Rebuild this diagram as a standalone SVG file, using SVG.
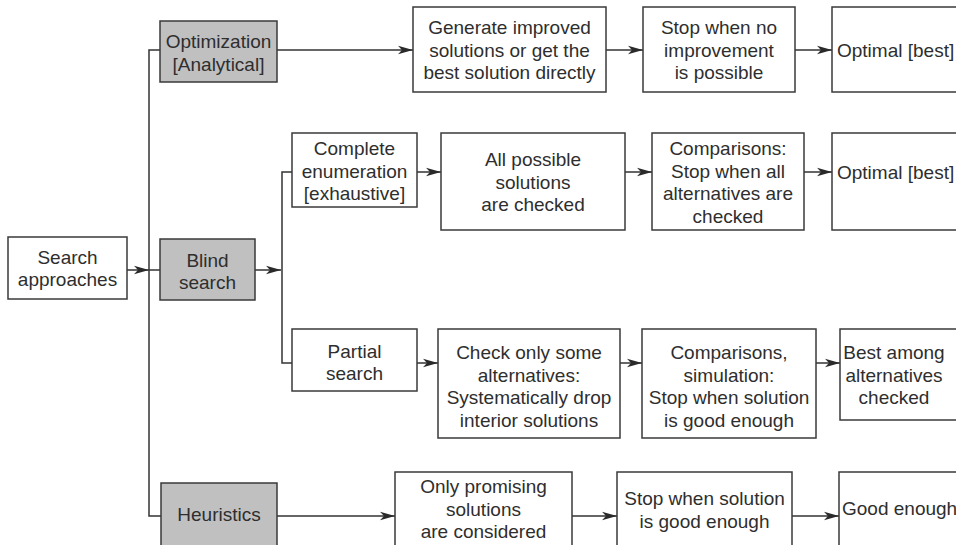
<svg xmlns="http://www.w3.org/2000/svg" width="956" height="545" viewBox="0 0 956 545">
<style>
.b{fill:#fff;stroke:#3a3a3a;stroke-width:1.5}
.g{fill:#c0c0c1;stroke:#3a3a3a;stroke-width:1.5}
text{font-family:"Liberation Sans",Arial,sans-serif;font-size:19px;fill:#2e2e2e;text-anchor:middle}
text.s{text-anchor:start}
.c{fill:none;stroke:#333;stroke-width:1.5}
</style>
<defs>
<marker id="a" markerWidth="16" markerHeight="10" refX="15" refY="5" orient="auto" markerUnits="userSpaceOnUse">
<path d="M0,0.8 L15,5 L0,9.2 L4,5 Z" fill="#2a2a2a"/>
</marker>
</defs>
<rect width="956" height="545" fill="#fff"/>
<g id="connectors">
<line class="c" x1="127" y1="270" x2="149" y2="270" marker-end="url(#a)"/>
<polyline class="c" points="160,50 149,50 149,516 161,516"/>
<line class="c" x1="149" y1="270" x2="160" y2="270"/>
<line class="c" x1="277" y1="50" x2="413" y2="50" marker-end="url(#a)"/>
<line class="c" x1="606" y1="50" x2="643" y2="50" marker-end="url(#a)"/>
<line class="c" x1="795" y1="50" x2="832" y2="50" marker-end="url(#a)"/>
<line class="c" x1="255" y1="270" x2="281" y2="270" marker-end="url(#a)"/>
<polyline class="c" points="292,172 282,172 282,363 292,363"/>
<line class="c" x1="417" y1="172" x2="441" y2="172" marker-end="url(#a)"/>
<line class="c" x1="625" y1="172" x2="652" y2="172" marker-end="url(#a)"/>
<line class="c" x1="804" y1="172" x2="832" y2="172" marker-end="url(#a)"/>
<line class="c" x1="417" y1="363" x2="438" y2="363" marker-end="url(#a)"/>
<line class="c" x1="620" y1="363" x2="642" y2="363" marker-end="url(#a)"/>
<line class="c" x1="816" y1="363" x2="840" y2="363" marker-end="url(#a)"/>
<line class="c" x1="277" y1="516" x2="395" y2="516" marker-end="url(#a)"/>
<line class="c" x1="572" y1="516" x2="617" y2="516" marker-end="url(#a)"/>
<line class="c" x1="792" y1="516" x2="839" y2="516" marker-end="url(#a)"/>
</g>
<g id="search-approaches">
<rect class="b" x="8" y="237" width="119" height="62"/>
<text x="67.5" y="264">Search</text>
<text x="67.5" y="286">approaches</text>
</g>
<g id="optimization">
<rect class="g" x="160" y="21" width="117" height="61"/>
<text x="218.5" y="48">Optimization</text>
<text x="218.5" y="70.5">[Analytical]</text>
</g>
<g id="blind-search">
<rect class="g" x="160" y="239" width="95" height="61"/>
<text x="207.5" y="267">Blind</text>
<text x="207.5" y="289">search</text>
</g>
<g id="heuristics">
<rect class="g" x="161" y="483" width="116" height="70"/>
<text x="219" y="521">Heuristics</text>
</g>
<g id="generate">
<rect class="b" x="413" y="7" width="193" height="85"/>
<text x="509.5" y="34">Generate improved</text>
<text x="509.5" y="56.5">solutions or get the</text>
<text x="509.5" y="79">best solution directly</text>
</g>
<g id="stop-no-improvement">
<rect class="b" x="643" y="7" width="152" height="85"/>
<text x="719" y="34">Stop when no</text>
<text x="719" y="56.5">improvement</text>
<text x="719" y="79">is possible</text>
</g>
<g id="optimal-1">
<rect class="b" x="832" y="7" width="160" height="85"/>
<text class="s" x="837" y="57">Optimal [best]</text>
</g>
<g id="complete-enumeration">
<rect class="b" x="292" y="133" width="125" height="74"/>
<text x="354.5" y="155">Complete</text>
<text x="354.5" y="177.5">enumeration</text>
<text x="354.5" y="200">[exhaustive]</text>
</g>
<g id="all-possible">
<rect class="b" x="441" y="133" width="184" height="97"/>
<text x="533" y="166">All possible</text>
<text x="533" y="188.5">solutions</text>
<text x="533" y="211">are checked</text>
</g>
<g id="comparisons">
<rect class="b" x="652" y="133" width="152" height="97"/>
<text x="728" y="155">Comparisons:</text>
<text x="728" y="177.5">Stop when all</text>
<text x="728" y="200">alternatives are</text>
<text x="728" y="222.5">checked</text>
</g>
<g id="optimal-2">
<rect class="b" x="832" y="133" width="160" height="97"/>
<text class="s" x="837" y="179">Optimal [best]</text>
</g>
<g id="partial-search">
<rect class="b" x="292" y="329" width="125" height="62"/>
<text x="354.5" y="358">Partial</text>
<text x="354.5" y="380">search</text>
</g>
<g id="check-only">
<rect class="b" x="438" y="329" width="182" height="109"/>
<text x="529" y="359">Check only some</text>
<text x="529" y="381.5">alternatives:</text>
<text x="529" y="404">Systematically drop</text>
<text x="529" y="426.5">interior solutions</text>
</g>
<g id="comparisons-simulation">
<rect class="b" x="642" y="329" width="174" height="109"/>
<text x="729" y="359">Comparisons,</text>
<text x="729" y="381.5">simulation:</text>
<text x="729" y="404">Stop when solution</text>
<text x="729" y="426.5">is good enough</text>
</g>
<g id="best-among">
<rect class="b" x="840" y="329" width="150" height="91"/>
<text x="894" y="359">Best among</text>
<text x="894" y="381.5">alternatives</text>
<text x="894" y="404">checked</text>
</g>
<g id="only-promising">
<rect class="b" x="395" y="472" width="177" height="85"/>
<text x="483.5" y="493">Only promising</text>
<text x="483.5" y="515.5">solutions</text>
<text x="483.5" y="538">are considered</text>
</g>
<g id="stop-good-enough">
<rect class="b" x="617" y="472" width="175" height="85"/>
<text x="704.5" y="505">Stop when solution</text>
<text x="704.5" y="527.5">is good enough</text>
</g>
<g id="good-enough">
<rect class="b" x="839" y="472" width="150" height="85"/>
<text class="s" x="842" y="515">Good enough</text>
</g>
</svg>
